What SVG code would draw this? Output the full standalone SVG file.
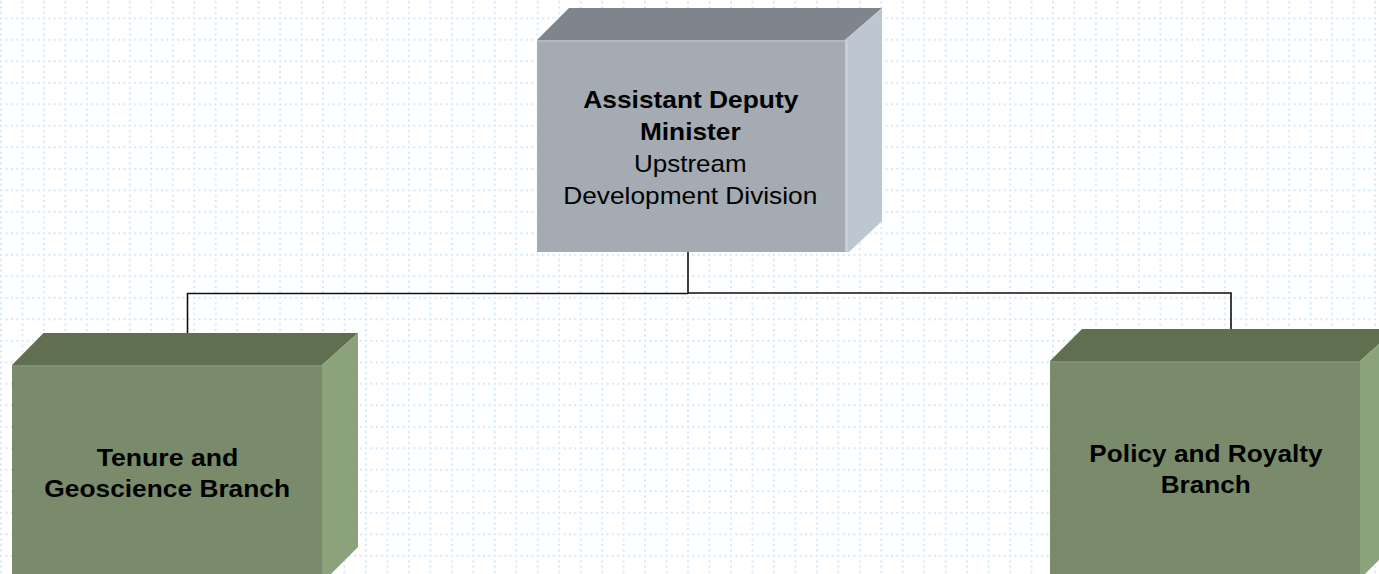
<svg xmlns="http://www.w3.org/2000/svg" width="1379" height="574" viewBox="0 0 1379 574">
  <style>
    .lbl { font-family: "Liberation Sans", Arial, sans-serif; font-size: 24px; fill: #000; text-anchor: middle; }
    .b { font-weight: bold; }
    .conn { fill: none; stroke: #111; stroke-width: 1.6; }
    .gTop { fill: #7f858d; }
    .gFront { fill: #a4abb3; }
    .gSide { fill: #bdc7d1; }
    .vTop { fill: #5f6f50; }
    .vFront { fill: #7a8b6b; }
    .vSide { fill: #8ba27a; }
  </style>
  <defs>
    <pattern id="grid" patternUnits="userSpaceOnUse" x="0" y="-4.2" width="21.47" height="21.5">
      <g fill="#cfe7fb">
        <rect x="0" y="0" width="2" height="2"/>
        <rect x="5.37" y="0" width="2" height="2"/>
        <rect x="10.74" y="0" width="2" height="2"/>
        <rect x="16.1" y="0" width="2" height="2"/>
        <rect x="0" y="5.37" width="2" height="2"/>
        <rect x="0" y="10.75" width="2" height="2"/>
        <rect x="0" y="16.12" width="2" height="2"/>
      </g>
    </pattern>
  </defs>
  <rect width="1379" height="574" fill="#fff"/>
  <rect width="1379" height="574" fill="url(#grid)"/>

  <g id="connectors">
    <path class="conn" d="M688,252 V293.5"/>
    <path class="conn" d="M688,293.5 H187.5 V333"/>
    <path class="conn" d="M688,293 H1231 V329"/>
  </g>

  <g id="node-adm">
    <polygon class="gTop" points="537,40 569,8 882,8 845,40"/>
    <polygon class="gSide" points="845,40 882,8 882,221 849,252 845,252"/>
    <rect class="gFront" x="537" y="40" width="308" height="212"/>
    <rect x="537" y="40" width="308" height="2" fill="#b3bac1"/>
    <rect x="845" y="40" width="3" height="212" fill="#c6cfd8"/>
    <text class="lbl b" x="690.8" y="108" textLength="215" lengthAdjust="spacingAndGlyphs">Assistant Deputy</text>
    <text class="lbl b" x="690.3" y="140" textLength="100.7" lengthAdjust="spacingAndGlyphs">Minister</text>
    <text class="lbl" x="690.3" y="172.3" textLength="112.7" lengthAdjust="spacingAndGlyphs">Upstream</text>
    <text class="lbl" x="690.3" y="204" textLength="254" lengthAdjust="spacingAndGlyphs">Development Division</text>
  </g>

  <g id="node-tenure">
    <polygon class="vTop" points="12,365 43.5,333 358,333 322,365"/>
    <polygon class="vSide" points="322,365 358,333 358,547 322,583"/>
    <rect class="vFront" x="12" y="365" width="310" height="215"/>
    <rect x="12" y="365" width="310" height="2" fill="#8596768a"/>
    <text class="lbl b" x="167.5" y="465.7" textLength="141.7" lengthAdjust="spacingAndGlyphs">Tenure and</text>
    <text class="lbl b" x="167.2" y="496.7" textLength="245.7" lengthAdjust="spacingAndGlyphs">Geoscience Branch</text>
  </g>

  <g id="node-policy">
    <polygon class="vTop" points="1050,361 1082,329 1396,329 1360,361"/>
    <polygon class="vSide" points="1360,361 1396,329 1396,543 1360,579"/>
    <rect class="vFront" x="1050" y="361" width="310" height="220"/>
    <rect x="1050" y="361" width="310" height="2" fill="#8596768a"/>
    <text class="lbl b" x="1206" y="461.7" textLength="233.3" lengthAdjust="spacingAndGlyphs">Policy and Royalty</text>
    <text class="lbl b" x="1205.7" y="493.3" textLength="90" lengthAdjust="spacingAndGlyphs">Branch</text>
  </g>
</svg>
